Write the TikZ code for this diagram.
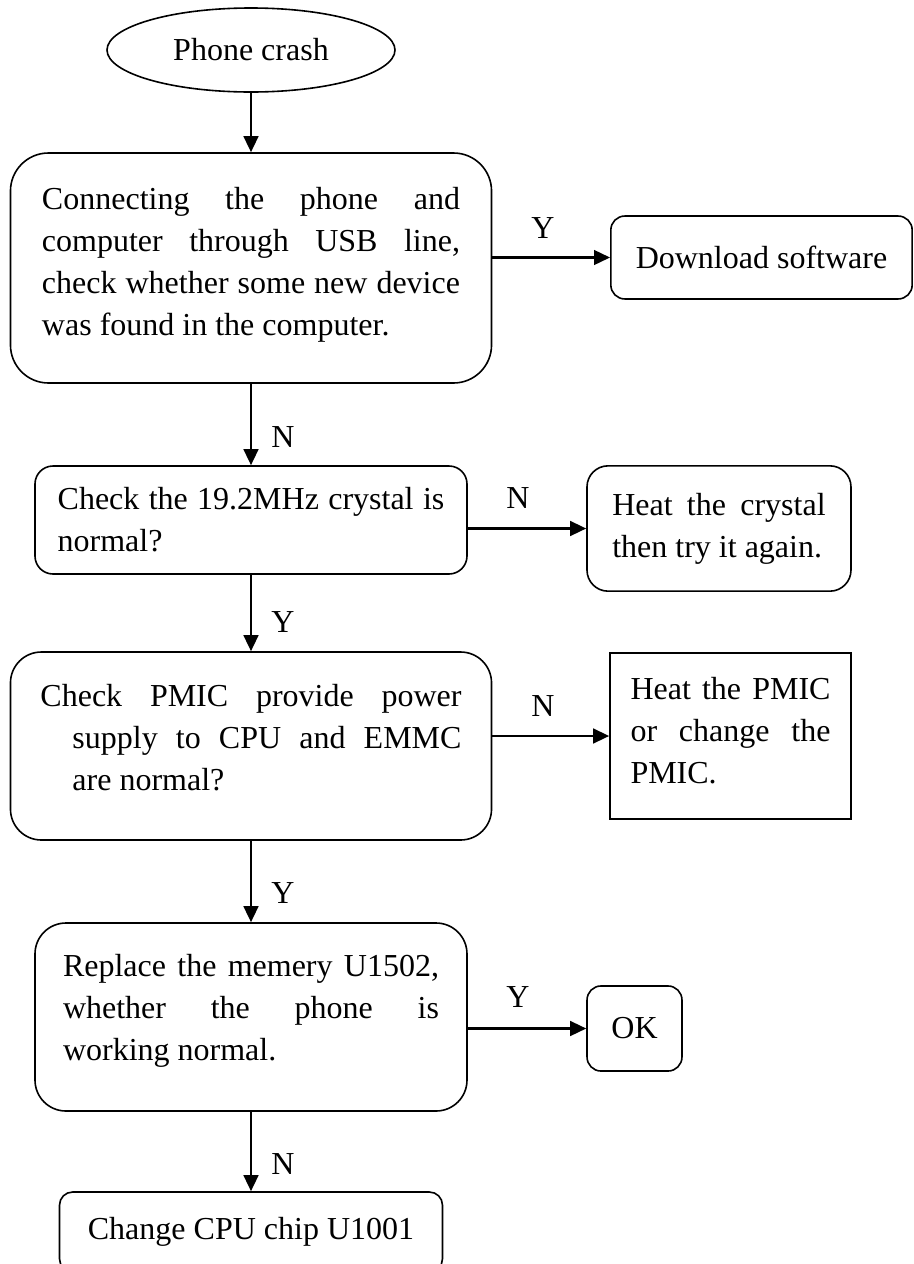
\documentclass[tikz,border=0pt]{standalone}
\usepackage{fontspec}
\setmainfont{Liberation Serif}
\usetikzlibrary{arrows.meta, shapes.geometric}
\tikzset{>={Triangle[length=6pt,width=5.5pt]}}
\tolerance=10000
\hbadness=10000
\hyphenpenalty=10000

\begin{document}
\begin{tikzpicture}[x=0.375pt, y=-0.375pt, line width=0.6pt,
		font=\fontsize{12}{15.75}\selectfont,
		every node/.style={inner sep=0pt},
		rbox/.style={draw, rounded corners=#1, align=justify},
		rbox/.default=5pt,
		link/.style={->, line width=0.9pt}]
		\useasboundingbox (0,0) rectangle (913,1264);
		\node[draw, ellipse, minimum width=108pt, minimum height=31.5pt] (crash) at (251,50) {Phone crash};
		\node[rbox=14.25pt, minimum width=180.4pt, minimum height=86.25pt, text width=156.75pt] (usb) at (251,268) {Connecting the phone and\linebreak computer through USB line,\linebreak check whether some new device\linebreak was found in the computer.\par\kern2.25pt};
		\node[rbox=5.25pt, minimum width=113pt, minimum height=31.1pt] (soft) at (761.5,257.5) {Download software};
		\node[rbox=6.75pt, minimum width=162pt, minimum height=40.5pt, text width=145pt] (xtal) at (251,520) {Check the 19.2MHz crystal is\linebreak normal?};
		\node[rbox=7.9pt, minimum width=99pt, minimum height=47pt, text width=80pt] (heat) at (719,528.5) {Heat the crystal\linebreak then try it again.};
		\node[rbox=11.6pt, minimum width=180.4pt, minimum height=70.5pt, text width=157.9pt] (pwr) at (251,746) {Check PMIC provide power\linebreak\hspace*{12pt}supply to CPU and EMMC\linebreak\hspace*{12pt}are normal?\par\kern6pt};
		\node[draw, align=justify, minimum width=90.4pt, minimum height=62.25pt, text width=75pt] (pmic) at (730.5,736) {Heat the PMIC\linebreak or change the\linebreak PMIC.\par\kern4pt};
		\node[rbox=11.6pt, minimum width=162pt, minimum height=70.5pt, text width=141pt] (mem) at (251,1017) {Replace the memery U1502,\linebreak whether the phone is\linebreak working normal.\par\kern4.5pt};
		\node[rbox=5.25pt, minimum width=35.6pt, minimum height=31.9pt] (ok) at (634.5,1028.5) {OK};
		\node[rbox=4.9pt, minimum width=143.6pt, minimum height=30pt] (cpu) at (251,1232) {Change CPU chip U1001};
		\node (y1) at (543,228) {Y};
		\node (n1) at (283,437) {N};
		\node (n2) at (518,498) {N};
		\node (y2) at (283,622) {Y};
		\node (n3) at (543,706) {N};
		\node (y3) at (283,893) {Y};
		\node (y4) at (518,997) {Y};
		\node (n4) at (283,1164) {N};
		\draw [link] (crash)--(usb);
		\draw [link] (usb.east |- soft.west)--(soft.west);
		\draw [link] (usb)--(xtal);
		\draw [link] (xtal.east |- heat.west)--(heat.west);
		\draw [link] (xtal)--(pwr);
		\draw [link] (pwr.east |- pmic.west)--(pmic.west);
		\draw [link] (pwr)--(mem);
		\draw [link] (mem.east |- ok.west)--(ok.west);
		\draw [link] (mem)--(cpu);
\end{tikzpicture}
\end{document}
